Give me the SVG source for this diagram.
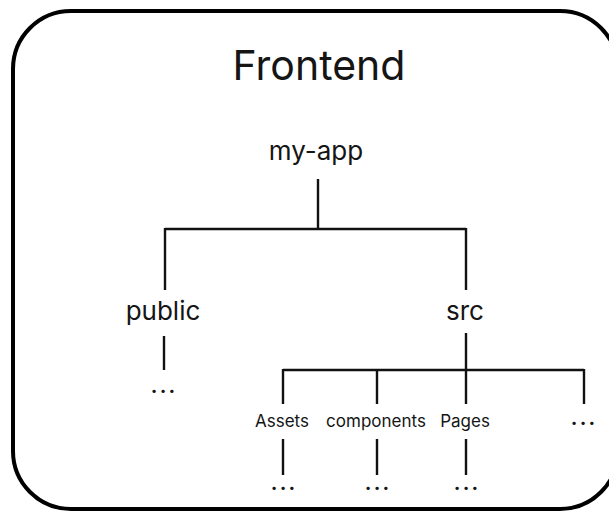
<svg xmlns="http://www.w3.org/2000/svg" width="609" height="511" viewBox="0 0 609 511">
  <style>
    text { font-family: Inter, "Noto Sans", "Liberation Sans", sans-serif; fill: #151515; text-anchor: middle; }
    .title { font-size: 41px; }
    .lg { font-size: 26px; }
    .sm { font-size: 17px; }
    .dots { font-size: 20px; font-weight: 700; letter-spacing: 2.2px; }
    .wire { stroke: #111; stroke-width: 2.4; fill: none; }
  </style>
  <rect x="13" y="11" width="605" height="498" rx="58" ry="58" fill="#fff" stroke="#000" stroke-width="4"/>
  <text class="title" x="319" y="80">Frontend</text>

  <g id="connectors">
    <path class="wire" d="M318 179 V229 M165 229 H466 M165 228 V290 M466 228 V290"/>
    <path class="wire" d="M164 336 V370"/>
    <path class="wire" d="M466 333 V370 M283 370 H584 M283 369 V404 M377 369 V404 M466 369 V404 M584 369 V404"/>
    <path class="wire" d="M283 439 V475 M377 439 V475 M466 439 V475"/>
  </g>

  <g id="my-app"><text class="lg" x="316" y="160">my-app</text></g>
  <g id="public"><text class="lg" x="163" y="320">public</text></g>
  <g id="public-more"><text class="dots" x="164.1" y="392.5">...</text></g>
  <g id="src"><text class="lg" x="465" y="320">src</text></g>
  <g id="assets"><text class="sm" x="282" y="427">Assets</text></g>
  <g id="components"><text class="sm" x="376" y="427">components</text></g>
  <g id="pages"><text class="sm" x="465" y="427">Pages</text></g>
  <g id="src-more"><text class="dots" x="584.1" y="424.5">...</text></g>
  <g id="assets-more"><text class="dots" x="284.1" y="489.5">...</text></g>
  <g id="components-more"><text class="dots" x="378.1" y="489.5">...</text></g>
  <g id="pages-more"><text class="dots" x="467.1" y="489.5">...</text></g>
</svg>
